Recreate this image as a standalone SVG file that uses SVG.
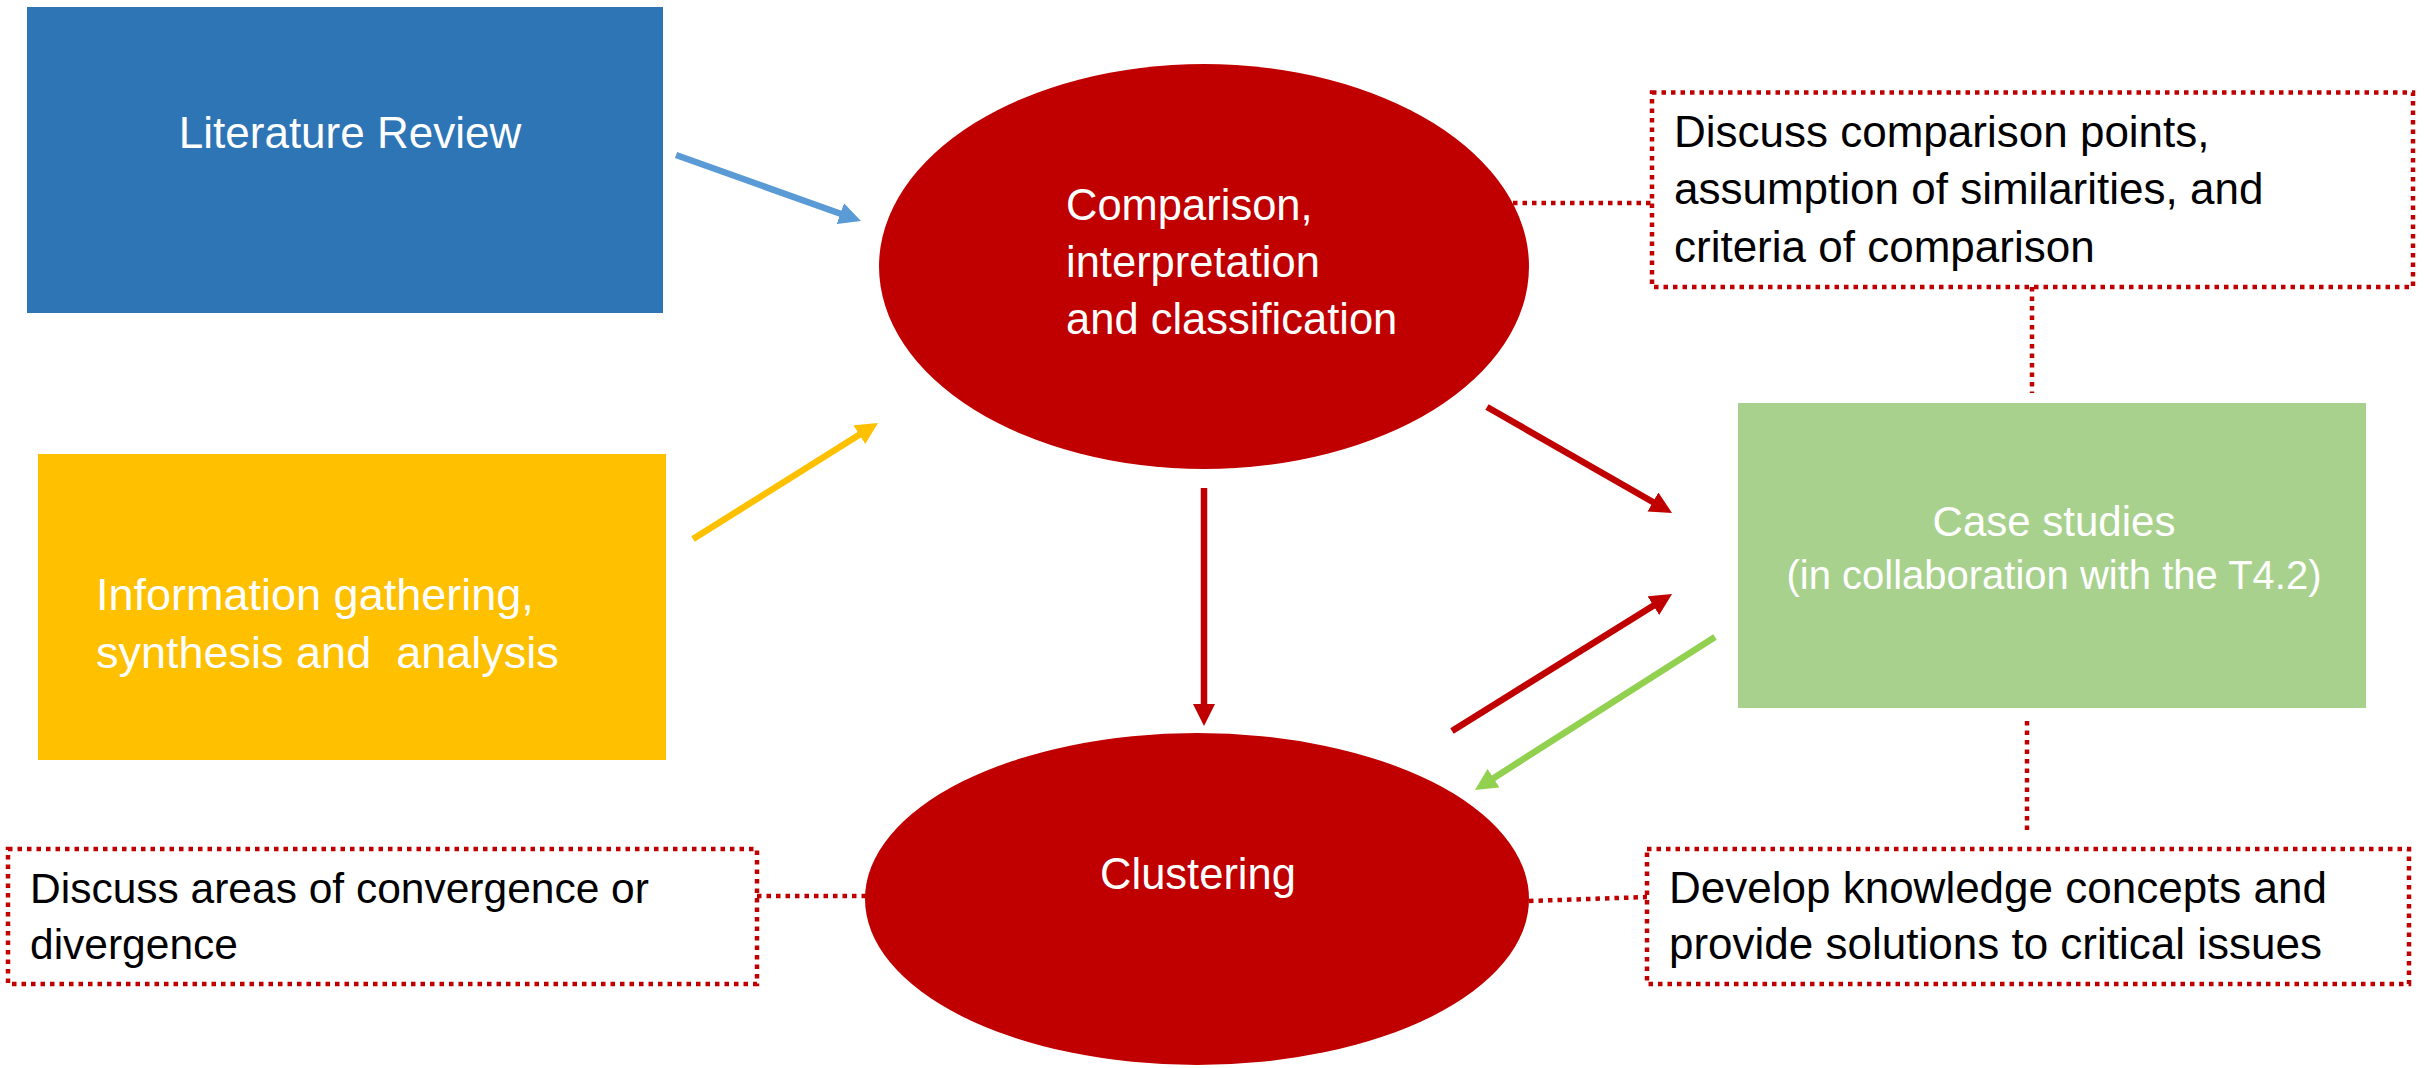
<svg xmlns="http://www.w3.org/2000/svg" width="2425" height="1068" viewBox="0 0 2425 1068">
  <style>
    .w { fill: #FFFFFF; font-family: "Liberation Sans", Arial, sans-serif; }
    .k { fill: #000000; font-family: "Liberation Sans", Arial, sans-serif; font-size: 44px; }
    .k2 { fill: #000000; font-family: "Liberation Sans", Arial, sans-serif; font-size: 42.5px; }
    .dot { fill: none; stroke: #C00000; stroke-width: 4.5; stroke-dasharray: 4.5 5; }
    .arr { fill: none; stroke-width: 6.5; }
  </style>
  <defs>
    <marker id="mRed" markerUnits="userSpaceOnUse" markerWidth="22" markerHeight="22" refX="7" refY="11" orient="auto">
      <path d="M0,0 L22,11 L0,22 z" fill="#C00000"/>
    </marker>
    <marker id="mBlue" markerUnits="userSpaceOnUse" markerWidth="22" markerHeight="22" refX="7" refY="11" orient="auto">
      <path d="M0,0 L22,11 L0,22 z" fill="#5B9BD5"/>
    </marker>
    <marker id="mYellow" markerUnits="userSpaceOnUse" markerWidth="22" markerHeight="22" refX="7" refY="11" orient="auto">
      <path d="M0,0 L22,11 L0,22 z" fill="#FFC000"/>
    </marker>
    <marker id="mGreen" markerUnits="userSpaceOnUse" markerWidth="22" markerHeight="22" refX="7" refY="11" orient="auto">
      <path d="M0,0 L22,11 L0,22 z" fill="#92D050"/>
    </marker>
  </defs>
  <rect x="0" y="0" width="2425" height="1068" fill="#FFFFFF"/>

  <g id="literature-review">
    <rect x="27" y="7" width="636" height="306" fill="#2E75B6"/>
    <text class="w" x="350" y="148" font-size="44" text-anchor="middle">Literature Review</text>
  </g>

  <g id="information-gathering">
    <rect x="38" y="454" width="628" height="306" fill="#FFC000"/>
    <text class="w" x="96" y="610" font-size="45" style="white-space:pre">Information gathering,</text>
    <text class="w" x="96" y="668" font-size="45" style="white-space:pre">synthesis and  analysis</text>
  </g>

  <g id="comparison">
    <ellipse cx="1204" cy="266.5" rx="325" ry="202.5" fill="#C00000"/>
    <text class="w" x="1066" y="220" font-size="43.5">Comparison,</text>
    <text class="w" x="1066" y="277" font-size="43.5">interpretation</text>
    <text class="w" x="1066" y="334" font-size="43.5">and classification</text>
  </g>

  <g id="clustering">
    <ellipse cx="1197" cy="899" rx="332" ry="166" fill="#C00000"/>
    <text class="w" x="1198" y="889" font-size="43.5" text-anchor="middle">Clustering</text>
  </g>

  <g id="case-studies">
    <rect x="1738" y="403" width="628" height="305" fill="#A9D18E"/>
    <text class="w" x="2054" y="536" font-size="42" text-anchor="middle">Case studies</text>
    <text class="w" x="2054" y="589" font-size="40" text-anchor="middle">(in collaboration with the T4.2)</text>
  </g>

  <g id="note-comparison">
    <rect class="dot" x="1652" y="92.5" width="761" height="194.5"/>
    <text class="k" x="1674" y="147">Discuss comparison points,</text>
    <text class="k" x="1674" y="204">assumption of similarities, and</text>
    <text class="k" x="1674" y="262">criteria of comparison</text>
  </g>

  <g id="note-convergence">
    <rect class="dot" x="8" y="849" width="749" height="135"/>
    <text class="k2" x="30" y="903">Discuss areas of convergence or</text>
    <text class="k2" x="30" y="959">divergence</text>
  </g>

  <g id="note-knowledge">
    <rect class="dot" x="1647" y="849" width="762" height="135"/>
    <text class="k" x="1669" y="903">Develop knowledge concepts and</text>
    <text class="k" x="1669" y="959">provide solutions to critical issues</text>
  </g>

  <g id="connectors">
    <line class="arr" x1="676" y1="155" x2="846.9" y2="216" stroke="#5B9BD5" marker-end="url(#mBlue)"/>
    <line class="arr" x1="693" y1="539" x2="865.3" y2="431" stroke="#FFC000" marker-end="url(#mYellow)"/>
    <line class="arr" x1="1204" y1="488" x2="1204" y2="711" stroke="#C00000" marker-end="url(#mRed)"/>
    <line class="arr" x1="1487" y1="407" x2="1659" y2="505.5" stroke="#C00000" marker-end="url(#mRed)"/>
    <line class="arr" x1="1452" y1="731" x2="1659.3" y2="601.9" stroke="#C00000" marker-end="url(#mRed)"/>
    <line class="arr" x1="1715" y1="637" x2="1487.6" y2="781.9" stroke="#92D050" marker-end="url(#mGreen)"/>
    <line class="dot" x1="1513" y1="203" x2="1652" y2="203"/>
    <line class="dot" x1="2032" y1="287" x2="2032" y2="393"/>
    <line class="dot" x1="2027" y1="721" x2="2027" y2="831"/>
    <line class="dot" x1="1529" y1="901" x2="1647" y2="897"/>
    <line class="dot" x1="757" y1="896" x2="866" y2="896"/>
  </g>
</svg>
